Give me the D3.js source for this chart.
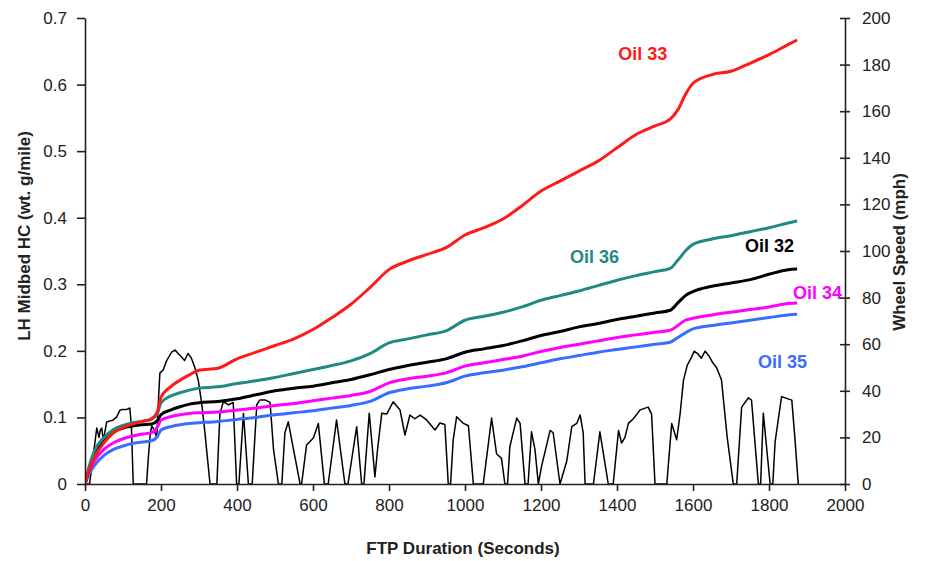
<!DOCTYPE html>
<html>
<head>
<meta charset="utf-8">
<script src="https://cdn.jsdelivr.net/npm/d3@7"></script>
<style>
  html, body { margin: 0; padding: 0; background: #fff; }
  svg { display: block; }
  text { font-family: "Liberation Sans", Arial, sans-serif; }
</style>
</head>
<body>
<svg id="chart" width="925" height="561"></svg>
<script>
// ---------- DATA ----------
const times = [0,10,25,50,75,100,125,150,175,190,200,225,250,275,300,350,400,450,500,550,600,650,700,750,800,850,900,950,1000,1050,1100,1150,1200,1250,1300,1350,1400,1450,1500,1540,1560,1580,1600,1650,1700,1750,1800,1850,1874];

const oil33 = [0,0.02,0.04,0.062,0.077,0.085,0.09,0.094,0.098,0.108,0.13,0.146,0.156,0.164,0.171,0.174,0.188,0.198,0.208,0.218,0.232,0.25,0.27,0.295,0.322,0.335,0.345,0.355,0.374,0.385,0.398,0.418,0.44,0.455,0.47,0.485,0.505,0.525,0.538,0.548,0.562,0.585,0.602,0.615,0.62,0.632,0.645,0.66,0.667];
const oil36 = [0,0.025,0.05,0.07,0.082,0.088,0.092,0.094,0.097,0.105,0.122,0.132,0.137,0.141,0.144,0.146,0.151,0.155,0.16,0.166,0.172,0.178,0.185,0.196,0.212,0.218,0.224,0.23,0.246,0.252,0.258,0.266,0.276,0.283,0.29,0.298,0.306,0.313,0.319,0.324,0.336,0.35,0.36,0.368,0.373,0.379,0.385,0.392,0.395];
const oil32 = [0,0.02,0.045,0.065,0.078,0.084,0.087,0.089,0.09,0.095,0.104,0.111,0.116,0.12,0.122,0.124,0.128,0.134,0.14,0.144,0.147,0.152,0.157,0.164,0.172,0.178,0.183,0.188,0.198,0.203,0.208,0.215,0.223,0.229,0.236,0.241,0.247,0.252,0.257,0.261,0.272,0.283,0.289,0.297,0.302,0.307,0.315,0.322,0.323];
const oil34 = [0,0.018,0.035,0.052,0.062,0.068,0.072,0.075,0.077,0.085,0.096,0.101,0.104,0.106,0.107,0.108,0.111,0.114,0.118,0.121,0.125,0.129,0.133,0.139,0.152,0.158,0.162,0.167,0.177,0.182,0.187,0.192,0.199,0.205,0.21,0.215,0.22,0.224,0.228,0.231,0.238,0.246,0.249,0.254,0.258,0.262,0.266,0.271,0.272];
const oil35 = [0,0.014,0.028,0.043,0.052,0.057,0.061,0.063,0.065,0.071,0.081,0.086,0.089,0.091,0.092,0.094,0.097,0.1,0.104,0.107,0.11,0.114,0.118,0.124,0.137,0.143,0.147,0.152,0.162,0.167,0.171,0.176,0.182,0.188,0.193,0.198,0.202,0.206,0.21,0.213,0.22,0.227,0.233,0.238,0.242,0.246,0.25,0.254,0.255];

const speedTimes = [0,12,31,37,40,44,48,52,57,65,74,83,92,100,110,118,122,127,162,167,172,176,182,189,193,197,206,215,228,237,245,254,262,271,280,289,298,307,315,329,347,355,364,378,390,399,405,417,430,440,452,460,475,487,496,509,518,526,535,545,566,570,583,601,614,630,640,662,684,692,715,728,734,748,763,770,781,794,811,829,842,855,868,882,899,921,934,947,956,962,969,978,996,1009,1022,1048,1070,1083,1096,1105,1112,1118,1136,1145,1158,1166,1175,1184,1193,1202,1224,1232,1250,1268,1281,1294,1303,1311,1316,1338,1355,1377,1390,1404,1412,1421,1430,1443,1461,1482,1491,1500,1531,1544,1557,1566,1575,1585,1595,1603,1612,1622,1632,1642,1652,1662,1675,1690,1706,1715,1728,1746,1754,1772,1778,1785,1803,1810,1816,1833,1860,1868,1877];
const speedMph  = [0,0,24,20,23,24,19,22,26.6,27,27.5,28.7,31.7,32,32,32.6,25,0,0,12,22,25,23,20,35,47.6,49,53,56.6,57.5,56,54.5,53,56,54,50,44.6,34.7,23,0,0,30,35.3,34,35,0,0,30.3,0,0,34,36,36,35,15,0,0,22,26.7,18,0,0,16.7,19.7,26,0,0,27.5,0,0,24.6,0,0,30.4,3,15,30.4,30,35.3,31.8,21,29.6,28,29.6,27.5,23.2,26.2,25.5,0,0,19,28.9,26,25,0,0,28.3,13,11,0,0,16,28.3,26,0,0,22.4,15,0,8,23,22,0,10,24.6,26,29.6,22,0,0,22.4,0,0,23,17.6,20,26,28,31.8,33,30,0,0,26,19,30,44.6,51,54,57,56,54,57,55,52,50,44.6,20,0,0,33,37,36,0,0,30.4,0,0,18,37.5,36,20,0];

const seriesNames  = ["Oil 33","Oil 36","Oil 32","Oil 34","Oil 35"];
const seriesColors = ["#ff1a1a","#1f8a84","#000000","#ff00ff","#3a6dff"];
const yTicks  = [0,0.1,0.2,0.3,0.4,0.5,0.6,0.7];
const y2Ticks = [0,20,40,60,80,100,120,140,160,180,200];
const xTicks  = [0,200,400,600,800,1000,1200,1400,1600,1800,2000];

// ---------- LAYOUT ----------
const svg = d3.select("#chart");
const L = 85, R = 845, T = 18, B = 484;
const x  = d3.scaleLinear().domain([0,2000]).range([L,R]);
const y  = d3.scaleLinear().domain([0,0.7]).range([B,T]);
const y2 = d3.scaleLinear().domain([0,200]).range([B,T]);

svg.append("defs").append("clipPath").attr("id","plot")
  .append("rect").attr("x",L).attr("y",T-5).attr("width",R-L).attr("height",B-T+5);

const g = svg.append("g").attr("clip-path","url(#plot)");

// speed trace
const sp = speedTimes.map((t,i)=>[t,speedMph[i]]);
g.append("path").datum(sp)
  .attr("fill","none").attr("stroke","#000").attr("stroke-width",1.5)
  .attr("stroke-linejoin","round")
  .attr("d", d3.line().x(d=>x(d[0])).y(d=>y2(d[1])));

// oil curves (draw back to front)
const allSeries = [oil33, oil36, oil32, oil34, oil35];
const drawOrder = [4,3,2,1,0];
drawOrder.forEach(k=>{
  const pts = times.map((t,i)=>[t, allSeries[k][i]]);
  g.append("path").datum(pts)
    .attr("fill","none").attr("stroke",seriesColors[k]).attr("stroke-width",3)
    .attr("stroke-linejoin","round")
    .attr("d", d3.line().curve(d3.curveMonotoneX).x(d=>x(d[0])).y(d=>y(d[1])));
});

// series labels (positioned in data space)
const labelPos = [[1403,0.637],[1276,0.332],[1737,0.348],[1863,0.278],[1771,0.174]];
seriesNames.forEach((n,k)=>{
  g.append("text").attr("x",x(labelPos[k][0])).attr("y",y(labelPos[k][1]))
    .attr("fill",seriesColors[k]).attr("font-size",18).attr("font-weight","bold")
    .text(n);
});

// ---------- AXES ----------
function styleAxis(sel){
  sel.select(".domain").attr("stroke","#222").attr("stroke-width",1.6);
  sel.selectAll(".tick line").attr("stroke","#222").attr("stroke-width",1.6);
  sel.selectAll(".tick text").attr("fill","#222").attr("font-size",17)
     .attr("font-family","'Liberation Sans', Arial, sans-serif");
}

const xAxis = svg.append("g").attr("transform",`translate(0,${B})`)
  .call(d3.axisBottom(x).tickValues(xTicks).tickSize(7).tickSizeOuter(0).tickPadding(8).tickFormat(d3.format("d")));
styleAxis(xAxis);

const yAxis = svg.append("g").attr("transform",`translate(${L},0)`)
  .call(d3.axisLeft(y).tickValues(yTicks).tickSize(8).tickSizeOuter(0).tickPadding(10)
    .tickFormat(d=> d===0 ? "0" : d3.format(".1f")(d)));
styleAxis(yAxis);

const y2Axis = svg.append("g").attr("transform",`translate(${R},0)`)
  .call(d3.axisRight(y2).tickValues(y2Ticks).tickSize(5).tickSizeOuter(0).tickPadding(12).tickFormat(d3.format("d")));
styleAxis(y2Axis);
y2Axis.selectAll(".tick line").attr("x1",-5);

// axis titles
svg.append("text").attr("x",463).attr("y",554).attr("text-anchor","middle")
  .attr("font-size",17).attr("font-weight","bold").attr("fill","#222")
  .text("FTP Duration (Seconds)");
svg.append("text").attr("transform","translate(30,236) rotate(-90)").attr("text-anchor","middle")
  .attr("font-size",17).attr("font-weight","bold").attr("fill","#222")
  .text("LH Midbed HC (wt. g/mile)");
svg.append("text").attr("transform","translate(905,252) rotate(-90)").attr("text-anchor","middle")
  .attr("font-size",17).attr("font-weight","bold").attr("fill","#222")
  .text("Wheel Speed (mph)");
</script>
</body>
</html>
